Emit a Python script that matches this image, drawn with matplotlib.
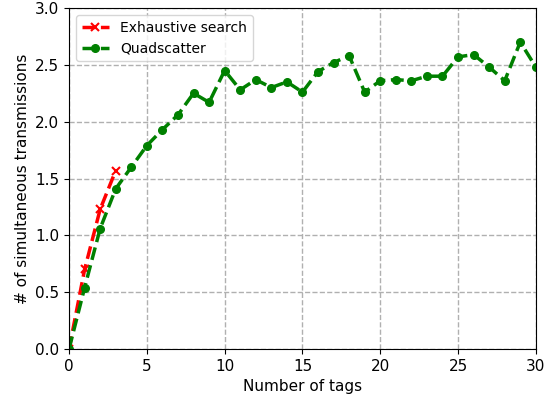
import numpy as np
import matplotlib
matplotlib.use("Agg")
import matplotlib.pyplot as plt

# exhaustive search only runs for small tag counts
exh_tags = [0, 1, 2, 3]
exh_vals = [0.0, 0.70, 1.23, 1.57]

quad_tags = list(range(31))
quad_vals = [0.0, 0.54, 1.06, 1.41, 1.60, 1.79, 1.93, 2.06, 2.25, 2.17,
             2.45, 2.28, 2.37, 2.30, 2.35, 2.26, 2.44, 2.52, 2.58, 2.26,
             2.36, 2.37, 2.36, 2.40, 2.40, 2.57, 2.59, 2.48, 2.36, 2.70,
             2.48]

fig, ax = plt.subplots(figsize=(5.57, 4.0), dpi=100)
fig.subplots_adjust(left=0.124, right=0.962, top=0.98, bottom=0.1275)

ax.plot(exh_tags, exh_vals, 'r--x', linewidth=2.5, markersize=6,
        markeredgewidth=1.5, label="Exhaustive search")
ax.plot(quad_tags, quad_vals, 'g--o', linewidth=2.5, markersize=5.5,
        label="Quadscatter")

ax.set_xlim(0, 30)
ax.set_ylim(0, 3.0)
ax.set_xticks(np.arange(0, 31, 5))
ax.set_yticks(np.arange(0, 3.01, 0.5))
ax.grid(True, linestyle='--', color='#b0b0b0', linewidth=1)
ax.set_axisbelow(True)

ax.set_xlabel("Number of tags", fontsize=11)
ax.set_ylabel("# of simultaneous transmissions", fontsize=11)
ax.tick_params(labelsize=11)
ax.legend(loc="upper left", fontsize=10)

fig.savefig("out.png", dpi=100)
